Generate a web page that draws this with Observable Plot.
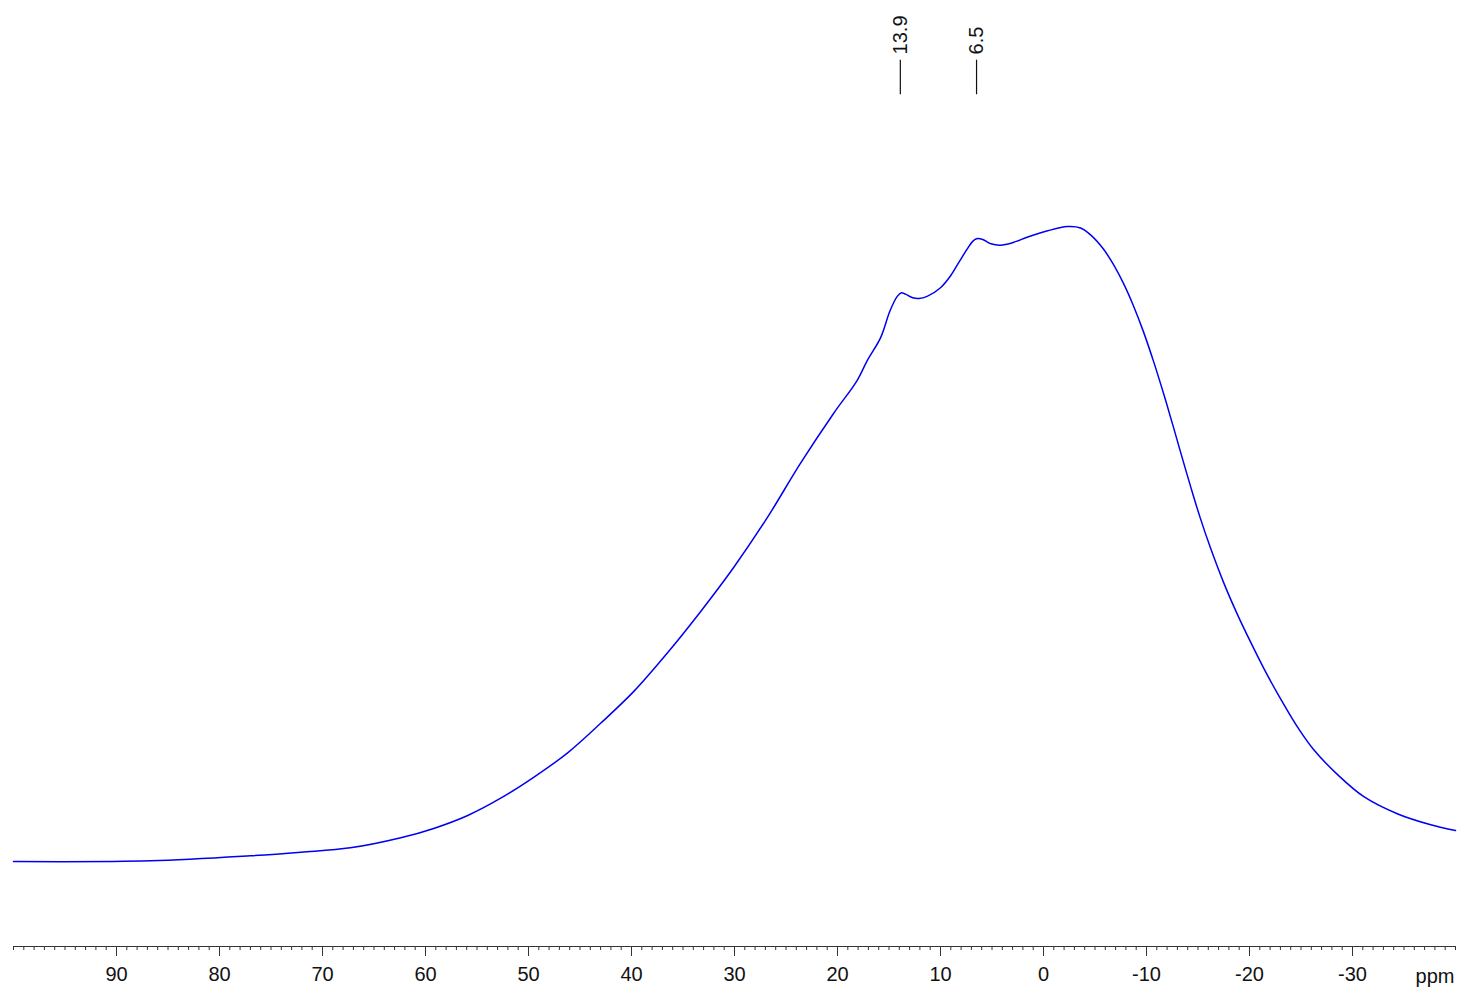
<!DOCTYPE html>
<html>
<head>
<meta charset="utf-8">
<script src="https://cdn.jsdelivr.net/npm/d3@7"></script>
<script src="https://cdn.jsdelivr.net/npm/@observablehq/plot@0.6"></script>
<style>
  html, body { margin: 0; padding: 0; background: #fff; }
  #chart svg { display: block; }
</style>
</head>
<body>
<div id="chart"></div>
<script>
// Chemical shift (ppm) and intensity (arbitrary units)
const ppm = [100.0, 86.7, 77.0, 72.1, 67.3, 62.4, 59.2, 55.9, 52.7, 49.5, 46.2, 43.0, 39.8, 36.5, 33.3, 30.1, 26.8, 23.6, 20.4, 18.1, 17.1, 15.8, 14.9, 14.2, 13.8, 13.4, 12.7, 12.1, 11.3, 10.0, 9.0, 8.1, 7.4, 6.9, 6.5, 5.9, 5.1, 4.2, 2.9, 1.6, -0.4, -2.3, -3.6, -4.6, -5.8, -6.8, -7.8, -8.7, -9.7, -10.7, -11.7, -12.6, -13.3, -14.3, -15.2, -16.2, -17.5, -18.8, -20.1, -21.4, -22.7, -24.7, -26.2, -28.6, -31.1, -34.4, -37.6, -40.0];
const intensity = [11.8, 11.9, 12.6, 13.1, 13.7, 15.1, 16.4, 18.2, 20.6, 23.5, 26.9, 31.0, 35.4, 40.8, 46.5, 52.6, 59.6, 67.1, 74.0, 78.6, 81.4, 84.6, 88.3, 90.3, 90.8, 90.6, 90.1, 90.0, 90.3, 91.5, 93.2, 95.3, 96.9, 97.9, 98.3, 98.2, 97.6, 97.4, 97.8, 98.5, 99.4, 100.0, 99.8, 98.8, 96.9, 94.7, 92.0, 89.1, 85.4, 81.2, 76.6, 72.2, 68.7, 63.8, 59.6, 55.4, 50.5, 46.2, 42.3, 38.6, 35.2, 30.4, 27.4, 23.8, 20.8, 18.4, 16.9, 16.1];
const peakLabels = [13.9, 6.5];
const majorTicks = [90, 80, 70, 60, 50, 40, 30, 20, 10, 0, -10, -20, -30];
const minorTicks = d3.range(100, -40.5, -1);
const axisUnit = "ppm";

const spectrum = ppm.map((p, i) => ({ppm: p, intensity: intensity[i]}));

const font = "'Liberation Sans', Arial, Helvetica, sans-serif";

const chart = Plot.plot({
  width: 1461,
  height: 991,
  marginLeft: 13,
  marginRight: 6,
  marginTop: 10,
  marginBottom: 45,
  style: {fontFamily: font, fontSize: "20px", background: "#fff", color: "#222"},
  x: {domain: [100, -40], axis: null},
  y: {domain: [0, 130], axis: null},
  marks: [
    Plot.ruleY([0], {stroke: "#333", strokeWidth: 1.2}),
    Plot.axisX(minorTicks, {anchor: "bottom", tickSize: 4, text: null, stroke: "#333", label: null}),
    Plot.axisX(majorTicks, {anchor: "bottom", tickSize: 10, tickPadding: 10, fontSize: 20, fill: "#111", stroke: "#333", label: null, tickFormat: d => String(d).replace("−", "-")}),
    Plot.text([axisUnit], {frameAnchor: "bottom-right", textAnchor: "end", lineAnchor: "middle", dy: 30, dx: -1, fontSize: 20, fill: "#111"}),
    Plot.line(spectrum, {x: "ppm", y: "intensity", stroke: "#0000f0", strokeWidth: 1.5, curve: "catmull-rom"}),
    Plot.ruleX(peakLabels, {x: d => d, y1: 118.3, y2: 123.1, stroke: "#111", strokeWidth: 1.2}),
    Plot.text(peakLabels, {x: d => d, y: 123.9, text: d => d.toFixed(1), rotate: -90, textAnchor: "start", lineAnchor: "middle", fontSize: 20, fill: "#111"})
  ]
});
document.getElementById("chart").appendChild(chart);
</script>
</body>
</html>
